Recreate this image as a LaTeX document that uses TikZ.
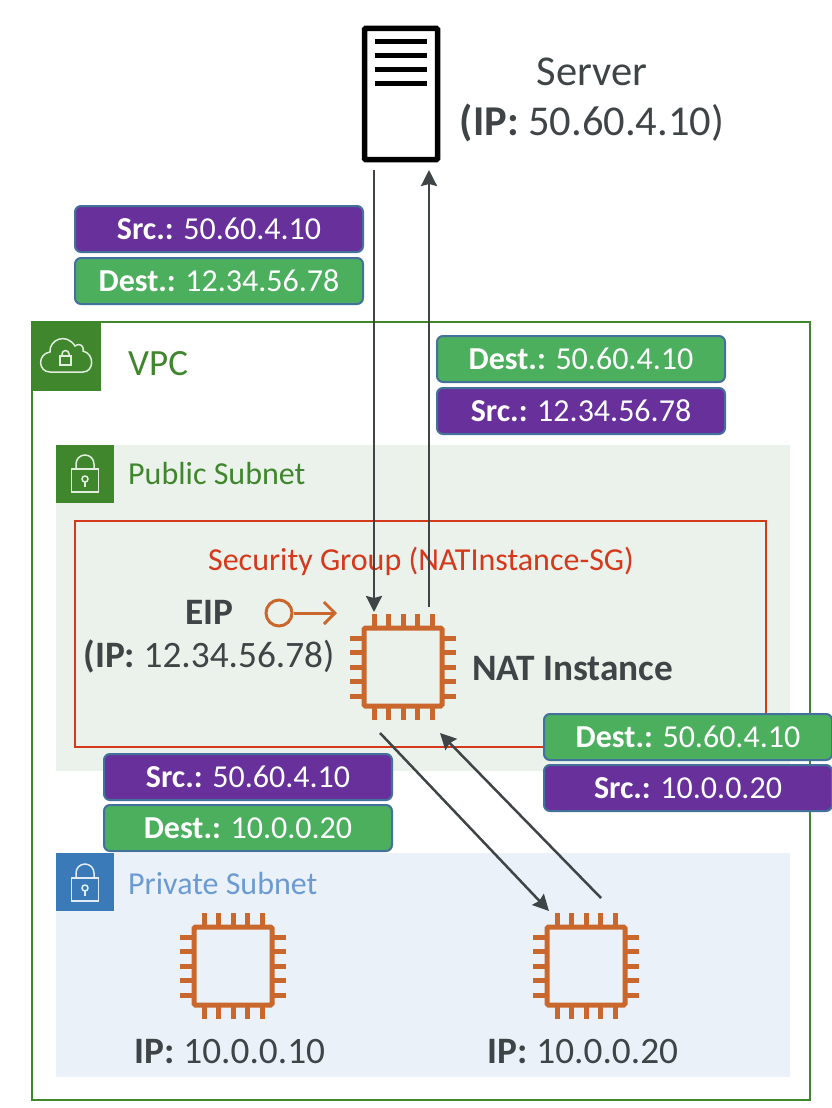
\documentclass[tikz,border=0pt]{standalone}
\usepackage{fontspec}
\setmainfont{Carlito}
\usetikzlibrary{arrows.meta}
\definecolor{vpcgreen}{HTML}{3F862C}
\definecolor{pubfill}{HTML}{EBF2EB}
\definecolor{privfill}{HTML}{EAF1F8}
\definecolor{privblue}{HTML}{3A7AB8}
\definecolor{privtext}{HTML}{6B9BD3}
\definecolor{sgred}{HTML}{D4391C}
\definecolor{chiporange}{HTML}{C9672D}
\definecolor{darktext}{HTML}{3F4447}
\definecolor{pktpurple}{HTML}{67309B}
\definecolor{pktgreen}{HTML}{4CAF5E}
\definecolor{pktborder}{HTML}{44709C}
\newcommand{\chipat}[3]{%
	\node[chipbody] (#1) at (#2,#3) {};
	\foreach \d in {-29,-14.5,0,14.5,29}
	{
		\draw[chippin] (#2+\d,#3-40) -- (#2+\d,#3-53);
		\draw[chippin] (#2+\d,#3+40) -- (#2+\d,#3+53);
		\draw[chippin] (#2-40,#3+\d) -- (#2-53,#3+\d);
		\draw[chippin] (#2+40,#3+\d) -- (#2+53,#3+\d);
	}
}
\newcommand{\lockat}[3]{% white padlock on a subnet badge
	\draw[#3,line width=1.5pt] (#1-13.5,#2-3) rectangle (#1+13.5,#2+20);
	\draw[#3,line width=1.5pt] (#1-9,#2-3) -- (#1-9,#2-8) arc (180:360:9) -- (#1+9,#2-3);
	\draw[#3,line width=1.5pt] (#1,#2+7) circle (3);
	\draw[#3,line width=1.5pt] (#1,#2+10) -- (#1,#2+15);
}
\begin{document}
\begin{tikzpicture}[x=1pt,y=-1pt]
	\tikzset{
		pktbox/.style={draw=pktborder,line width=2pt,rounded corners=6pt,minimum width=288pt,minimum height=46pt,inner sep=0pt,text=white,font=\fontsize{32}{34}\selectfont},
		pktsrc/.style={pktbox,fill=pktpurple},
		pktdest/.style={pktbox,fill=pktgreen},
		chipbody/.style={draw=chiporange,line width=5pt,rounded corners=1.5pt,minimum size=78pt,inner sep=0pt},
		chippin/.style={draw=chiporange,line width=5pt},
		flow/.style={draw=darktext,line width=2.5pt,-{Stealth[length=16pt,width=16pt,inset=2pt]}},
		dark/.style={text=darktext,align=center,inner sep=0pt}
	}
	\useasboundingbox (0,0) rectangle (832,1108);
	
	% VPC and subnets
	\draw[vpcgreen,line width=2.5pt] (32,322) rectangle (810,1100);
	\fill[vpcgreen] (31,321) rectangle (101,391);
	\fill[pubfill] (56,445) rectangle (790,771);
	\fill[vpcgreen] (56,445) rectangle (114,503);
	\fill[privfill] (56,853) rectangle (790,1077);
	\fill[privblue] (56,853) rectangle (114,911);
	\draw[sgred,line width=2.5pt] (75,521) rectangle (766,747);
	
	% Cloud icon
	\draw[white!85!vpcgreen,line width=1.5pt] (50,372) .. controls (38,372) and (37,354) .. (50,352) .. controls (49,340) and (66,332) .. (75,346) .. controls (81,342) and (84,347) .. (83,351) .. controls (95,354) and (94,372) .. (83,372) -- cycle;
	\draw[white!85!vpcgreen,line width=1.5pt] (60,356) rectangle (71,365);
	\draw[white!85!vpcgreen,line width=1.5pt] (62,356) -- (62,354) arc (180:360:3.5) -- (69,356);
	\lockat{85}{472}{white!85!vpcgreen}
	\lockat{85}{881}{white!85!privblue}
	
	% Titles
	\node[anchor=west,inner sep=0pt,text=vpcgreen,font=\fontsize{37}{39}\selectfont] (vpclabel) at (128,364) {VPC};
	\node[anchor=west,inner sep=0pt,text=vpcgreen,font=\fontsize{32}{34}\selectfont] (publabel) at (128,474) {Public Subnet};
	\node[anchor=west,inner sep=0pt,text=privtext,font=\fontsize{32}{34}\selectfont] (privlabel) at (128,883) {Private Subnet};
	\node[inner sep=0pt,text=sgred,font=\fontsize{32}{34}\selectfont] (sglabel) at (421,561) {Security Group (NATInstance-SG)};
	
	% Server
	\node[draw=black,line width=5.5pt,rounded corners=1pt,minimum width=73pt,minimum height=131pt,inner sep=0pt] (server) at (401,94) {};
	\foreach \y in {42,56,70,83}
	{
		\draw[black,line width=5pt] (375,\y) -- (427,\y);
	}
	\node[dark,font=\fontsize{42.5}{50}\selectfont] (serverlabel) at (592,100) {Server\\\textbf{(IP:} 50.60.4.10)};
	
	% Instances
	\chipat{nat}{403}{667}
	\chipat{privone}{233}{966}
	\chipat{privtwo}{586}{966}
	\node[dark,anchor=west,font=\bfseries\fontsize{37.3}{39}\selectfont] (natlabel) at (472,669) {NAT Instance};
	\node[dark,font=\fontsize{37.3}{43}\selectfont] (eiplabel) at (209,637) {\textbf{EIP}\\\textbf{(IP:} 12.34.56.78)};
	\node[dark,font=\fontsize{37.3}{39}\selectfont] (privonelabel) at (230,1052) {\textbf{IP:} 10.0.0.10};
	\node[dark,font=\fontsize{37.3}{39}\selectfont] (privtwolabel) at (583,1052) {\textbf{IP:} 10.0.0.20};
	
	% EIP symbol
	\node[draw=chiporange,line width=3pt,circle,minimum size=26pt,inner sep=0pt] (eip) at (279,613) {};
	\coordinate (eipend) at (337,613);
	\draw[draw=chiporange,line width=3pt,-{Straight Barb[length=11pt,width=22pt]}] (eip) -- (eipend);
	
	% Arrow ends
	\coordinate (srvout) at (374,170);
	\coordinate (natin) at (374,612);
	\coordinate (natout) at (429,607);
	\coordinate (srvin) at (429,170);
	\coordinate (natdown) at (380,733);
	\coordinate (privin) at (549,911);
	\coordinate (privout) at (601,898);
	\coordinate (natback) at (440,733);
	\draw[flow] (srvout) -- (natin);
	\draw[flow] (natout) -- (srvin);
	\draw[flow] (natdown) -- (privin);
	\draw[flow] (privout) -- (natback);
	
	% Packet headers
	\node[pktsrc] (srcone) at (219,229) {\textbf{Src.:} 50.60.4.10};
	\node[pktdest] (destone) at (219,281) {\textbf{Dest.:} 12.34.56.78};
	\node[pktdest] (desttwo) at (581,359) {\textbf{Dest.:} 50.60.4.10};
	\node[pktsrc] (srctwo) at (581,411) {\textbf{Src.:} 12.34.56.78};
	\node[pktsrc] (srcthree) at (248,777) {\textbf{Src.:} 50.60.4.10};
	\node[pktdest] (destthree) at (248,828) {\textbf{Dest.:} 10.0.0.20};
	\node[pktdest] (destfour) at (688,737) {\textbf{Dest.:} 50.60.4.10};
	\node[pktsrc] (srcfour) at (688,788) {\textbf{Src.:} 10.0.0.20};
\end{tikzpicture}
\end{document}
